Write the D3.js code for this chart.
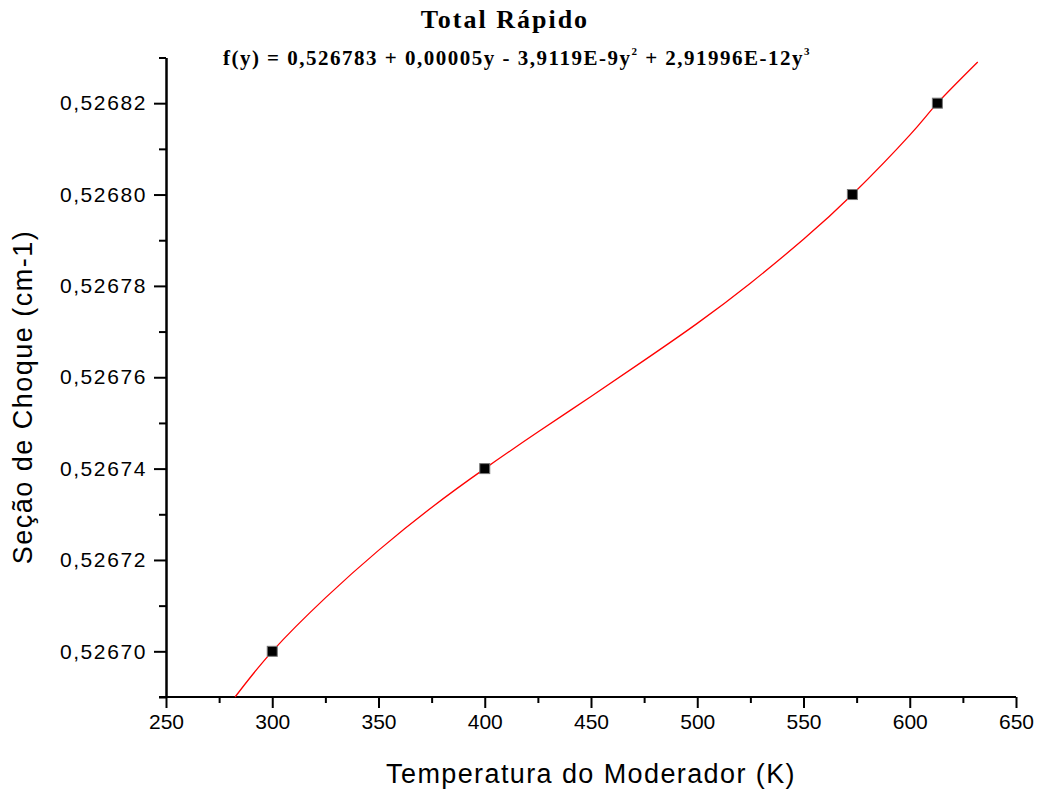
<!DOCTYPE html>
<html><head><meta charset="utf-8">
<script src="https://cdn.jsdelivr.net/npm/d3@7"></script>
<style>body{margin:0;background:#fff}svg{display:block}</style>
</head><body>
<script>
// Measured data points (Temperature K, cross-section cm-1)
const pointT = [300, 400, 573, 613];
const pointV = [0.52670, 0.52674, 0.52680, 0.52682];
// Fitted curve
const curveT = [282.5, 300, 325, 350, 375, 400, 425, 450, 475, 500, 525, 550, 573, 600, 613, 632];
const curveV = [0.52669, 0.52670, 0.5267117, 0.5267221, 0.5267315, 0.52674, 0.5267480, 0.5267558, 0.5267637, 0.5267718, 0.5267806, 0.5267902, 0.52680, 0.5268130, 0.52682, 0.526829];
const xTicks = [250, 300, 350, 400, 450, 500, 550, 600, 650];
const yTicks = [0.52670, 0.52672, 0.52674, 0.52676, 0.52678, 0.52680, 0.52682];
const xMinor = [275, 325, 375, 425, 475, 525, 575, 625];
const yMinor = [0.52669, 0.52671, 0.52673, 0.52675, 0.52677, 0.52679, 0.52681, 0.52683];

const W = 1045, H = 793;
const svg = d3.select("body").append("svg").attr("width", W).attr("height", H);
const x = d3.scaleLinear().domain([250, 650]).range([166, 1016]);
const y = d3.scaleLinear().domain([0.52669, 0.52683]).range([697, 57.5]);
const fmtY = v => d3.format(".5f")(v).replace(".", ",");
const sans = "Liberation Sans, Arial, sans-serif";
const serif = "Liberation Serif, Times New Roman, serif";

// X axis
const gx = svg.append("g").attr("transform", `translate(0,${y.range()[0]})`);
gx.call(d3.axisBottom(x).tickValues(xTicks).tickSize(11).tickSizeOuter(0).tickFormat(d3.format("d")).tickPadding(6));
gx.append("g").call(d3.axisBottom(x).tickValues(xMinor).tickSize(6).tickSizeOuter(0).tickFormat(""));
gx.selectAll(".domain").attr("stroke-width", 2).attr("d", `M159,0H${x(650)}`);
gx.selectAll(".tick line").attr("stroke-width", 2).attr("stroke", "#000");
gx.selectAll(".tick text").attr("font-family", sans).attr("font-size", 21).attr("fill", "#000");

// Y axis
const gy = svg.append("g").attr("transform", `translate(${x.range()[0]},0)`);
gy.call(d3.axisLeft(y).tickValues(yTicks).tickSize(12).tickSizeOuter(0).tickFormat(fmtY).tickPadding(7));
gy.append("g").call(d3.axisLeft(y).tickValues(yMinor).tickSize(7).tickSizeOuter(0).tickFormat(""));
gy.selectAll(".domain").attr("stroke-width", 2);
gy.selectAll(".tick line").attr("stroke-width", 2).attr("stroke", "#000");
gy.selectAll(".tick text").attr("font-family", sans).attr("font-size", 21).attr("letter-spacing", 1.6).attr("fill", "#000");

// Curve
const line = d3.line().x(d => x(d[0])).y(d => y(d[1])).curve(d3.curveNatural);
svg.append("path").datum(curveT.map((t, i) => [t, curveV[i]]))
  .attr("d", line).attr("fill", "none").attr("stroke", "#ff0000").attr("stroke-width", 1.3);

// Points
svg.selectAll("rect.pt").data(pointT.map((t, i) => [t, pointV[i]])).enter().append("rect")
  .attr("class", "pt").attr("x", d => x(d[0]) - 5).attr("y", d => y(d[1]) - 5)
  .attr("width", 10).attr("height", 10).attr("fill", "#000").attr("stroke", "#777").attr("stroke-width", 1);

// Titles
svg.append("text").attr("x", 505).attr("y", 28).attr("text-anchor", "middle")
  .attr("font-family", serif).attr("font-weight", "bold").attr("font-size", 26).attr("letter-spacing", 2)
  .text("Total Rápido");
const eq = svg.append("text").attr("x", 517).attr("y", 65).attr("text-anchor", "middle")
  .attr("font-family", serif).attr("font-weight", "bold").attr("font-size", 21).attr("letter-spacing", 1.5);
eq.append("tspan").text("f(y) = 0,526783 + 0,00005y - 3,9119E-9y");
eq.append("tspan").attr("font-size", 11).attr("dy", -10).text("2");
eq.append("tspan").attr("dy", 10).text(" + 2,91996E-12y");
eq.append("tspan").attr("font-size", 11).attr("dy", -10).text("3");

// Axis labels
svg.append("text").attr("x", 591).attr("y", 783).attr("text-anchor", "middle")
  .attr("font-family", sans).attr("font-size", 27).attr("letter-spacing", 1.4).attr("fill", "#000")
  .text("Temperatura do Moderador (K)");
svg.append("text").attr("transform", "translate(32,397) rotate(-90)").attr("text-anchor", "middle")
  .attr("font-family", sans).attr("font-size", 27).attr("letter-spacing", 1.5).attr("fill", "#000")
  .text("Seção de Choque (cm-1)");
</script>
</body></html>
